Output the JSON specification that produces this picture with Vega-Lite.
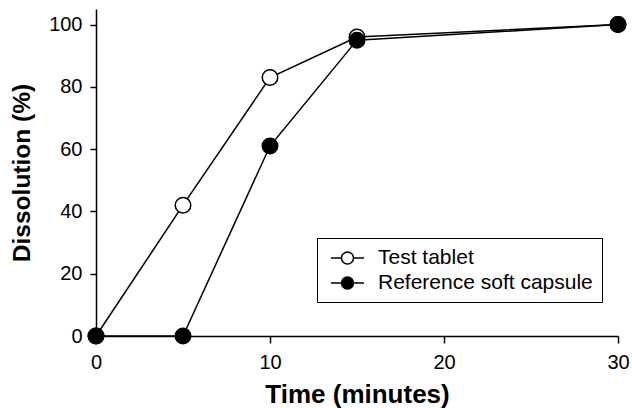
{
  "$schema": "https://vega.github.io/schema/vega-lite/v6.json",
  "autosize": "none",
  "width": 522,
  "height": 327,
  "padding": {"left": 96, "top": 9, "right": 14, "bottom": 72},
  "config": {
    "view": {"stroke": null},
    "font": "Liberation Sans",
    "axis": {
      "grid": false,
      "domainColor": "black",
      "domainWidth": 1.5,
      "tickColor": "black",
      "tickWidth": 1.5,
      "labelColor": "black",
      "labelFont": "Liberation Sans",
      "labelFontSize": 20,
      "titleFont": "Liberation Sans",
      "titleFontWeight": "bold",
      "titleColor": "black"
    },
    "legend": {
      "labelFont": "Liberation Sans",
      "labelFontSize": 21,
      "labelColor": "black",
      "labelLimit": 0,
      "strokeColor": "black",
      "padding": 9,
      "cornerRadius": 0,
      "fillColor": "white",
      "symbolStrokeColor": "black",
      "symbolStrokeWidth": 1.5
    }
  },
  "data": {
    "values": [
      {"time": 0, "dissolution": 0, "series": "Test tablet"},
      {"time": 5, "dissolution": 42, "series": "Test tablet"},
      {"time": 10, "dissolution": 83, "series": "Test tablet"},
      {"time": 15, "dissolution": 96, "series": "Test tablet"},
      {"time": 30, "dissolution": 100, "series": "Test tablet"},
      {"time": 0, "dissolution": 0, "series": "Reference soft capsule"},
      {"time": 5, "dissolution": 0, "series": "Reference soft capsule"},
      {"time": 10, "dissolution": 61, "series": "Reference soft capsule"},
      {"time": 15, "dissolution": 95, "series": "Reference soft capsule"},
      {"time": 30, "dissolution": 100, "series": "Reference soft capsule"}
    ]
  },
  "encoding": {
    "x": {
      "field": "time",
      "type": "quantitative",
      "scale": {"domain": [0, 30], "nice": false, "zero": false},
      "axis": {"title": "Time (minutes)", "titleFontSize": 26, "values": [0, 10, 20, 30], "tickSize": 7, "labelPadding": 9, "titlePadding": 9, "labelFlush": false}
    },
    "y": {
      "field": "dissolution",
      "type": "quantitative",
      "scale": {"domain": [0, 105], "nice": false},
      "axis": {"title": "Dissolution (%)", "titleFontSize": 24.5, "values": [0, 20, 40, 60, 80, 100], "tickSize": 6, "labelPadding": 8, "titlePadding": 14, "labelFlush": false}
    }
  },
  "layer": [
    {
      "mark": {"type": "line", "color": "black", "strokeWidth": 1.5},
      "encoding": {"detail": {"field": "series", "type": "nominal"}}
    },
    {
      "mark": {"type": "point", "shape": "circle", "size": 240, "stroke": "black", "strokeWidth": 1.5, "filled": false, "opacity": 1},
      "encoding": {
        "fill": {
          "field": "series",
          "type": "nominal",
          "scale": {"domain": ["Test tablet", "Reference soft capsule"], "range": ["white", "black"]},
          "legend": {
            "title": null,
            "orient": "none",
            "legendX": 221,
            "legendY": 229,
            "symbolType": "M-0.6,0L0.45,0M1.65,0L2.7,0M0.45,0A0.6,0.6,0,1,1,1.65,0A0.6,0.6,0,1,1,0.45,0Z",
            "symbolSize": 400,
            "labelOffset": 30,
            "rowPadding": 4
          }
        }
      }
    }
  ]
}
